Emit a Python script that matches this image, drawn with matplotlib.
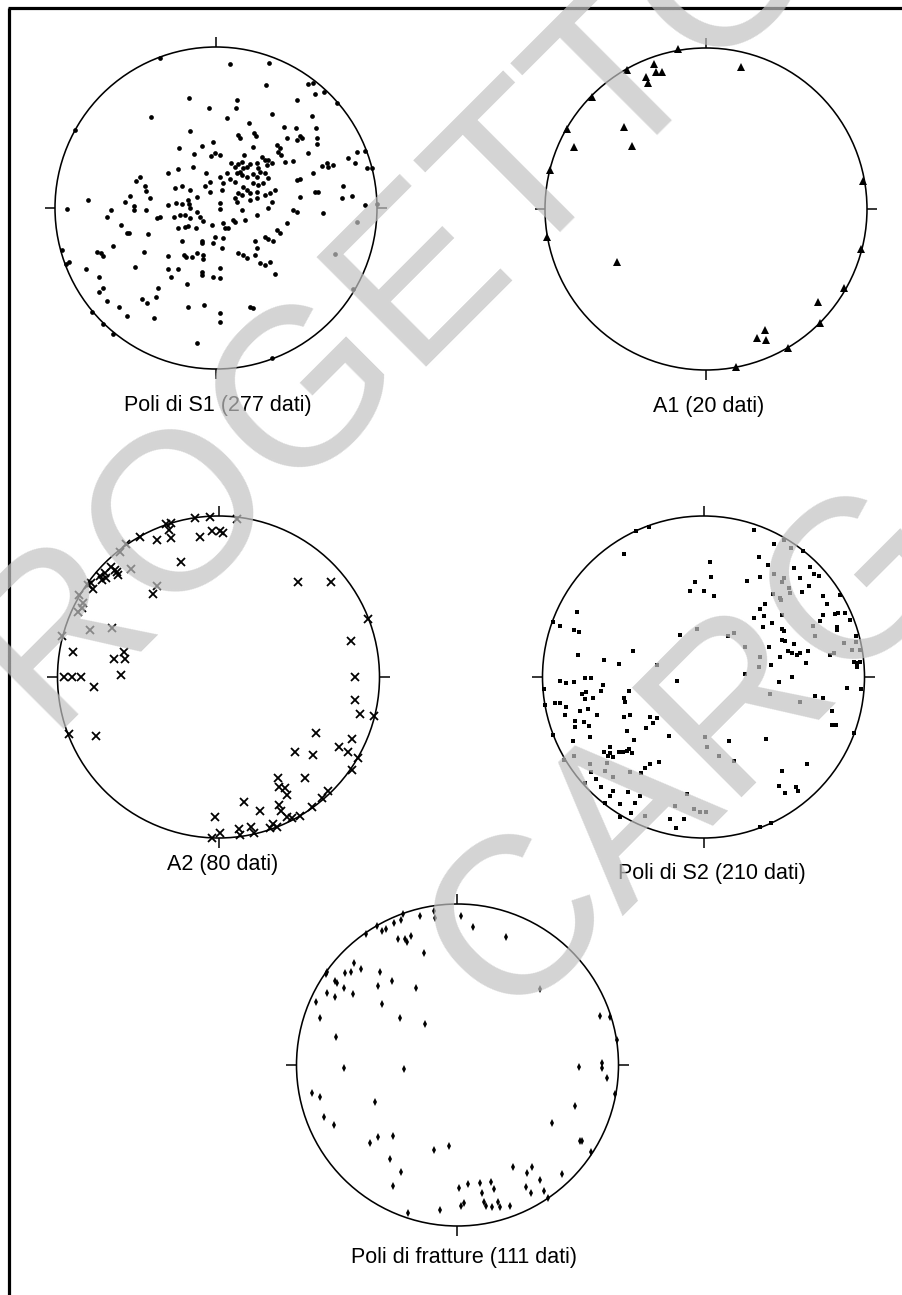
import matplotlib
matplotlib.use("Agg")
import matplotlib.pyplot as plt
import numpy as np
from matplotlib.patches import Circle
from matplotlib.lines import Line2D

# ---------------- DATA (equal-area projection coords, net radius = 483 units) -------------
NET_R = 483.0

S1_POLES = [
    (-168,449),(-423,234),(-80,329),(-21,301),(-195,274),(-78,231),(-9,198),(-110,181),(-43,186),
    (-66,161),(-15,157),(-2,164),(-68,124),(-114,116),(-145,106),(-29,105),(-228,94),(-240,81),
    (-212,67),(-210,52),(-258,36),(-198,29),(-103,67),(-123,59),(-78,54),(-33,67),(-18,77),(-18,47),
    (-383,24),(-273,19),(-246,7),(-145,9),(-120,14),(-103,11),(-83,24),(-58,34),(-80,11),
    (-446,-4),(-315,-6),(-245,-6),(-210,-6),(-78,-1),(-58,-11),(-328,-28),(-178,-31),(-168,-28),
    (-126,-28),(-108,-21),(-93,-21),(-78,-31),(-48,-26),(-38,-38),(-13,-51),(-286,-52),(-268,-74),
    (-261,-74),(-205,-79),(-115,-61),(-93,-56),(-83,-54),(-61,-61),(-3,-86),(-103,-98),(-43,-98),
    (-41,-106),(-8,-106),(-463,-126),(-440,-161),(-450,-168),(-358,-133),(-346,-136),(-340,-143),
    (-310,-114),(-215,-133),(-145,-143),(-96,-141),(-90,-148),(-73,-148),(-58,-134),(-38,-141),
    (-38,-154),(-390,-183),(-350,-206),(-243,-178),(-145,-183),(-115,-183),(-135,-206),(-43,-191),
    (-43,-201),(-8,-206),(-338,-239),(-350,-251),(-173,-239),(-88,-229),(-326,-279),(-290,-298),
    (-221,-273),(-208,-286),(-180,-268),(-83,-296),(-36,-291),(-268,-324),(-185,-331),(-373,-313),
    (-340,-348),(-308,-379),(-58,-404),
    (12,-4),(157,-1),(232,-6),(242,-11),(322,-16),(422,-41),(77,-6),(122,-21),(87,-36),(52,-36),
    (57,-41),(22,-46),(27,-61),(37,-61),(22,-91),(17,-121),(212,-44),(182,-66),(192,-76),(147,-86),
    (157,-94),(172,-98),(117,-99),(122,-121),(117,-141),(67,-136),(82,-141),(92,-151),(132,-166),
    (147,-171),(162,-161),(177,-199),(12,-181),(12,-211),(12,-316),(12,-341),(102,-296),(112,-301),
    (357,-138),(410,-244),(169,-449),
    (42,431),(159,436),(150,369),(277,371),(292,374),(325,349),(362,314),(297,341),(244,324),
    (64,324),(59,299),(32,271),(169,283),(287,276),(99,254),(205,242),(240,241),(300,239),(67,219),
    (72,209),(115,226),(119,216),(212,209),(252,217),(259,209),(242,204),(304,209),(304,192),
    (110,184),(182,189),(192,179),(187,169),(194,159),(277,166),(422,169),(447,172),(397,149),
    (417,134),(84,159),(12,160),(45,134),(57,124),(67,132),(77,139),(82,119),(72,109),(92,124),
    (102,132),(122,136),(127,119),(137,154),(147,144),(157,144),(152,129),(167,134),(207,139),
    (230,141),(317,127),(332,134),(337,124),(352,129),(452,119),(467,121),(292,104),(32,104),
    (62,104),(77,99),(92,94),(112,102),(122,94),(132,109),(147,104),(157,89),(12,94),(42,86),
    (57,79),(22,74),(112,74),(127,69),(142,74),(82,64),(92,54),(242,84),(252,87),(177,54),(382,67),
    (17,54),(67,44),(77,39),(102,44),(122,49),(147,39),(162,44),(57,29),(62,19),(297,49),(307,49),
    (252,34),(407,36),(377,29),(12,14),(102,24),(122,29),(167,17),(447,8),(482,11),
]

A1_AXES = [
    (-83,479),(-155,435),(-150,412),(-131,410),(-238,417),(-180,395),(-173,377),(104,427),
    (-343,337),(-416,239),(-245,247),(-223,190),(-396,187),(-468,117),(470,85),(-476,-85),
    (-266,-158),(465,-121),(415,-238),(337,-278),(342,-341),(177,-363),(152,-388),(179,-393),
    (247,-418),(90,-475),
]

A2_AXES = [
    (-71,476),(-26,481),(54,474),(-158,459),(-144,461),(-148,441),(-236,421),(-184,411),(-143,416),
    (-56,421),(-21,438),(4,438),(14,431),(-296,376),(-276,398),(-114,346),(-321,331),(-311,321),
    (-341,311),(-348,291),(-336,296),(-303,316),(-301,306),(-264,324),(-356,303),(-381,281),
    (-391,276),(-376,264),(-418,246),(-406,221),(-421,196),(-408,206),(-184,273),(-196,248),
    (239,284),(336,286),(449,174),(-468,123),(-386,141),(-318,148),(396,108),(-436,74),(-314,54),
    (-284,76),(-281,54),(-291,6),(-464,1),(-438,1),(-411,1),(-374,-29),(409,1),(409,-69),(424,-112),
    (467,-117),(-448,-172),(-368,-177),(292,-169),(229,-226),(282,-234),(362,-211),(399,-187),
    (389,-226),(419,-244),(399,-279),(259,-304),(179,-302),(182,-329),(199,-334),(206,-354),
    (76,-374),(182,-384),(186,-402),(204,-419),(124,-402),(-11,-419),(329,-342),(309,-364),
    (279,-389),(244,-416),(164,-442),(174,-449),(154,-454),(97,-449),(107,-469),(61,-456),
    (64,-474),(4,-469),(-21,-484),(219,-424),
]

S2_POLES = [
    (-202,438),(-165,451),(152,441),(-240,368),(165,359),(210,398),(240,411),(263,388),(298,378),
    (18,346),(192,336),(210,308),(170,301),(272,328),(318,329),(330,309),(347,303),(242,296),
    (288,296),(255,266),(258,253),(235,284),(315,273),(295,254),(207,248),(228,236),(232,231),
    (-25,286),(23,299),(0,259),(-40,259),(30,243),(130,288),(358,243),(370,219),(410,246),
    (185,219),(168,203),(152,178),(180,184),(235,186),(358,186),(395,188),(402,191),(425,191),
    (440,171),(348,169),(328,154),(400,151),(400,141),(177,149),(205,161),(235,144),(242,138),
    (-20,143),(73,123),(92,133),(-72,126),(235,111),(245,108),(270,99),(335,123),(458,124),
    (458,104),(420,101),(195,91),(123,89),(252,79),(265,73),(280,66),(290,71),(312,79),(380,66),
    (390,71),(445,81),(470,81),(168,61),(228,61),(308,43),(165,29),(202,36),(452,46),(460,41),
    (470,46),(460,31),(-140,35),(123,8),(265,1),(225,-14),(473,-37),(430,-32),(335,-56),(358,-62),
    (200,-52),(288,-74),(385,-102),(385,-144),(398,-144),(450,-169),(188,-187),(75,-192),
    (10,-211),(45,-236),(92,-252),(235,-281),(310,-261),(225,-326),(245,-347),(278,-329),
    (282,-341),(-50,-351),(-28,-397),(-10,-406),(7,-406),(-87,-387),(-83,-454),(-100,-426),
    (-60,-426),(170,-449),(202,-437),
    (-380,194),(-430,153),(-390,141),(-375,136),(-452,166),(-377,66),(-213,78),(-298,51),(-253,39),
    (-80,-11),(-430,-12),(-414,-19),(-390,-14),(-355,-2),(-337,-2),(-302,-24),(-307,-41),(-365,-51),
    (-352,-46),(-332,-62),(-355,-67),(-480,-37),(-475,-84),(-447,-77),(-430,-77),(-412,-89),
    (-372,-101),(-347,-96),(-415,-114),(-320,-114),(-385,-132),(-387,-149),(-360,-136),(-345,-146),
    (-240,-64),(-225,-41),(-237,-76),(-240,-119),(-222,-114),(-340,-179),(-393,-192),(-452,-174),
    (-390,-237),(-230,-161),(-210,-189),(-172,-152),(-160,-119),(-140,-122),(-152,-139),
    (-105,-176),(3,-181),(-300,-224),(-288,-236),(-280,-229),(-272,-241),(-255,-226),(-242,-226),
    (-230,-222),(-223,-217),(-215,-229),(-280,-209),(-340,-261),(-290,-259),(-295,-282),
    (-220,-284),(-187,-289),(-175,-272),(-160,-261),(-135,-254),(-272,-299),(-420,-249),
    (-337,-284),(-322,-307),(-355,-317),(-307,-329),(-272,-342),(-282,-356),(-227,-346),
    (-192,-356),(-205,-379),(-252,-382),(-218,-409),(-177,-417),(-297,-377),(-252,-419),
]

FRACTURE_POLES = [
    (-163,453),(-168,435),(-191,425),(-215,407),(-226,403),(-240,418),(-275,392),(-113,447),
    (-71,462),(-66,440),(10,448),(47,413),(145,383),(-178,378),(-158,378),(-150,370),(-138,388),
    (-101,337),(-310,307),(-290,288),(-338,277),(-320,280),(-396,273),(-391,278),(-368,253),
    (-361,245),(-233,278),(-196,252),(-238,237),(-340,230),(-391,217),(-368,205),(-313,212),
    (-125,230),(-226,183),(-426,188),(-412,140),(-173,140),(-98,122),(247,228),(427,147),(457,145),
    (479,75),(-366,85),(-341,-10),(-160,-12),(365,-7),(435,7),(435,-8),(450,-38),(472,-88),
    (-438,-85),(-412,-97),(-248,-110),(352,-122),(-400,-155),(-370,-180),(284,-173),(-263,-235),
    (-238,-217),(-192,-212),(367,-227),(375,-227),(400,-260),(-71,-255),(-26,-244),(-202,-283),
    (-168,-322),(168,-305),(208,-323),(225,-305),(315,-326),(247,-345),(-192,-363),(4,-370),
    (32,-358),(67,-355),(102,-352),(75,-383),(109,-372),(207,-367),(220,-383),(260,-377),
    (272,-398),(12,-422),(19,-415),(80,-412),(85,-422),(104,-427),(122,-412),(129,-427),
    (159,-424),(-53,-435),(-148,-445),
]

TITLES = ["Poli di S1 (277 dati)", "A1 (20 dati)", "A2 (80 dati)",
          "Poli di S2 (210 dati)", "Poli di fratture (111 dati)"]
WATERMARK = ["PROGETTO", "CARG"]

# ---------------- LAYOUT ----------------
W, H = 903, 1295
DPI = 100
R_PX = 161.0
fig = plt.figure(figsize=(W / DPI, H / DPI), dpi=DPI)
fig.patch.set_facecolor("white")

# nets: (data, centre_x_px, centre_y_px, marker, title_dx, title_gap, title)
nets = [
    (S1_POLES, 216, 208, dict(marker="o", ms=3.4, mew=0, mfc="black"), 2, 42, TITLES[0]),
    (A1_AXES, 706, 209, dict(marker="^", ms=5.2, mew=0, mfc="black"), 3, 42, TITLES[1]),
    (A2_AXES, 218.5, 677, dict(marker="x", ms=6.0, mew=1.3, mec="black"), 4, 32, TITLES[2]),
    (S2_POLES, 703.5, 677, dict(marker="s", ms=2.7, mew=0, mfc="black"), 8, 41, TITLES[3]),
    (FRACTURE_POLES, 457.5, 1065, dict(marker="d", ms=4.2, mew=0, mfc="black"), 7, 37, TITLES[4]),
]

LIM = 1.1
for data, cx, cy, mk, tdx, tgap, title in nets:
    half = LIM * R_PX
    ax = fig.add_axes([(cx - half) / W, (H - cy - half) / H, 2 * half / W, 2 * half / H])
    ax.set_xlim(-LIM, LIM)
    ax.set_ylim(-LIM, LIM)
    ax.set_aspect("equal")
    ax.axis("off")
    ax.add_patch(Circle((0, 0), 1.0, fill=False, ec="black", lw=1.15, zorder=2))
    t = 0.065
    for (x0, y0, x1, y1) in [(0, 1, 0, 1 + t), (0, -1, 0, -1 - t), (-1, 0, -1 - t, 0), (1, 0, 1 + t, 0)]:
        ax.plot([x0, x1], [y0, y1], color="black", lw=1.1, solid_capstyle="butt", clip_on=False)
    arr = np.array(data, dtype=float) / NET_R
    ax.plot(arr[:, 0], arr[:, 1], ls="none", clip_on=False, zorder=3, **mk)
    ax.text(tdx / R_PX, -1 - tgap / R_PX, title, ha="center", va="baseline",
            fontsize=15.5, family=["Liberation Sans", "DejaVu Sans"], color="black")

# overlay axes for frame and watermark (pixel coordinates)
ov = fig.add_axes([0, 0, 1, 1])
ov.set_xlim(0, W)
ov.set_ylim(H, 0)
ov.axis("off")
ov.add_line(Line2D([9.5, 9.5], [7.5, H + 5], color="black", lw=2.3, solid_capstyle="butt"))
ov.add_line(Line2D([8.3, W + 5], [7.5, 7.5], color="black", lw=2.3, solid_capstyle="butt"))

wm_size = 225 * 72 / DPI
ov.text(-60, 835, WATERMARK[0], rotation=45, rotation_mode="anchor", ha="left", va="baseline",
        fontsize=wm_size, family=["Liberation Sans"], color="#c2c2c2", alpha=0.7, zorder=10)
ov.text(505, 1023, WATERMARK[1], rotation=45, rotation_mode="anchor", ha="left", va="baseline",
        fontsize=wm_size, family=["Liberation Sans"], color="#c2c2c2", alpha=0.7, zorder=10)

fig.savefig("out.png", dpi=DPI, facecolor="white")
